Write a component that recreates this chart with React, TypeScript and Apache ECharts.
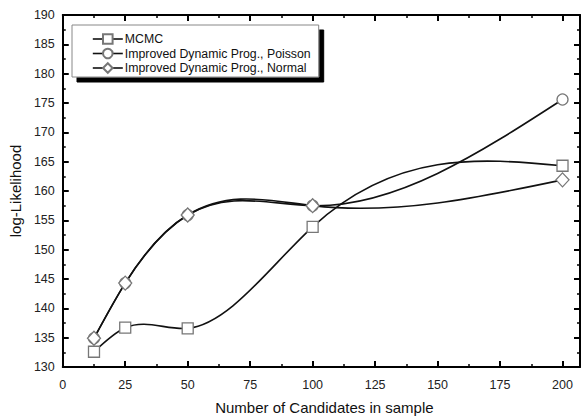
import React, { useEffect, useRef } from "react";
import * as echarts from "echarts";

const xValues = [12.5, 25, 50, 100, 200];
const mcmc = [132.6, 136.7, 136.6, 153.9, 164.3];
const poisson = [134.9, 144.3, 155.9, 157.5, 175.6];
const normal = [134.9, 144.3, 155.9, 157.5, 161.9];
const seriesNames = [
  "MCMC",
  "Improved Dynamic Prog., Poisson",
  "Improved Dynamic Prog., Normal",
];
const xAxisTitle = "Number of Candidates in sample";
const yAxisTitle = "log-Likelihood";

const FONT = "'Liberation Sans', Arial, sans-serif";

// natural cubic spline -> bezier segments in data space (drawing style only)
function splineSegments(xs: number[], ys: number[]) {
  const n = xs.length;
  const h: number[] = [];
  for (let i = 0; i < n - 1; i++) h.push(xs[i + 1] - xs[i]);
  const M = new Array(n).fill(0);
  if (n > 2) {
    const a: number[] = [], b: number[] = [], c: number[] = [], r: number[] = [];
    for (let i = 1; i < n - 1; i++) {
      a.push(h[i - 1]);
      b.push(2 * (h[i - 1] + h[i]));
      c.push(h[i]);
      r.push(6 * ((ys[i + 1] - ys[i]) / h[i] - (ys[i] - ys[i - 1]) / h[i - 1]));
    }
    const m = b.length;
    for (let i = 1; i < m; i++) {
      const w = a[i] / b[i - 1];
      b[i] -= w * c[i - 1];
      r[i] -= w * r[i - 1];
    }
    const sol = new Array(m).fill(0);
    sol[m - 1] = r[m - 1] / b[m - 1];
    for (let i = m - 2; i >= 0; i--) sol[i] = (r[i] - c[i] * sol[i + 1]) / b[i];
    for (let i = 0; i < m; i++) M[i + 1] = sol[i];
  }
  const segs: number[][][] = [];
  for (let i = 0; i < n - 1; i++) {
    const s = (ys[i + 1] - ys[i]) / h[i];
    const d0 = s - (h[i] * (2 * M[i] + M[i + 1])) / 6;
    const d1 = s + (h[i] * (M[i] + 2 * M[i + 1])) / 6;
    segs.push([
      [xs[i], ys[i]],
      [xs[i] + h[i] / 3, ys[i] + (d0 * h[i]) / 3],
      [xs[i + 1] - h[i] / 3, ys[i + 1] - (d1 * h[i]) / 3],
      [xs[i + 1], ys[i + 1]],
    ]);
  }
  return segs;
}

export default function App() {
  const ref = useRef<HTMLDivElement>(null);
  useEffect(() => {
    if (!ref.current) return;
    const chart = echarts.init(ref.current, undefined, { renderer: "svg" });
    const LINE_COLOR = "#111";
    const LINE_W = 1.6;
    const itemStyle = { color: "#fff", borderColor: "#777", borderWidth: 1.3 };
    const axisLine = { show: true, onZero: false, lineStyle: { color: "#000", width: 2 } };
    const axisTick = { show: true, inside: true, length: 6, lineStyle: { color: "#000", width: 2 } };
    const minorTick = { show: true, splitNumber: 2, length: 3, lineStyle: { color: "#000", width: 1.5 } };
    const xCommon = { type: "value", min: 0, max: 207, interval: 25 };
    const yCommon = { type: "value", min: 130, max: 190, interval: 5 };
    const mk = (arr: number[]) => xValues.map((x, i) => [x, arr[i]]);

    const curveSeries = (arr: number[]) => ({
      type: "custom",
      coordinateSystem: "cartesian2d",
      data: mk(arr),
      encode: { x: 0, y: 1 },
      silent: true,
      z: 1,
      renderItem: (params: any, api: any) => {
        if (params.dataIndex !== 0) return null;
        const segs = splineSegments(xValues, arr);
        let d = "";
        segs.forEach((sg, i) => {
          const p = sg.map((q) => api.coord(q));
          if (i === 0) d += `M${p[0][0]},${p[0][1]}`;
          d += `C${p[1][0]},${p[1][1]} ${p[2][0]},${p[2][1]} ${p[3][0]},${p[3][1]}`;
        });
        return {
          type: "path",
          shape: { pathData: d },
          style: { stroke: LINE_COLOR, lineWidth: LINE_W, fill: "none" },
        };
      },
    });

    const symbolSeries = (name: string, arr: number[], symbol: string, size: any, z: number) => ({
      name,
      type: "line",
      data: mk(arr),
      symbol,
      symbolSize: size,
      showAllSymbol: true,
      lineStyle: { color: LINE_COLOR, width: LINE_W, opacity: 0 },
      itemStyle,
      z,
    });

    chart.setOption({
      animation: false,
      textStyle: { fontFamily: FONT },
      grid: { left: 61, right: 4, top: 15, bottom: 51, containLabel: false },
      legend: {
        orient: "vertical",
        left: 72,
        top: 25,
        padding: [8, 8, 3, 20],
        itemWidth: 30,
        itemHeight: 12,
        itemGap: 2.5,
        backgroundColor: "#fff",
        borderColor: "#888",
        borderWidth: 1,
        shadowColor: "#000",
        shadowBlur: 0,
        shadowOffsetX: 5,
        shadowOffsetY: 5,
        lineStyle: { color: LINE_COLOR, width: LINE_W, opacity: 1 },
        textStyle: { fontFamily: FONT, fontSize: 12.3, color: "#111", padding: [0, 0, 0, -3] },
        data: seriesNames,
      },
      xAxis: [
        {
          ...xCommon,
          position: "bottom",
          name: xAxisTitle,
          nameLocation: "middle",
          nameGap: 33,
          nameTextStyle: { fontFamily: FONT, fontSize: 15, color: "#111", padding: [0, 0, 0, 6] },
          axisLine,
          axisTick,
          minorTick,
          splitLine: { show: false },
          axisLabel: {
            fontFamily: FONT,
            fontSize: 12.5,
            color: "#222",
            margin: 11,
            formatter: (v: number) => (v % 25 === 0 ? String(v) : ""),
          },
        },
        {
          ...xCommon,
          position: "top",
          axisLine,
          axisTick,
          minorTick,
          splitLine: { show: false },
          axisLabel: { show: false },
        },
      ],
      yAxis: [
        {
          ...yCommon,
          position: "left",
          name: yAxisTitle,
          nameLocation: "middle",
          nameGap: 38,
          nameRotate: 90,
          nameTextStyle: { fontFamily: FONT, fontSize: 15, color: "#111" },
          axisLine,
          axisTick,
          minorTick,
          splitLine: { show: false },
          axisLabel: { fontFamily: FONT, fontSize: 12.5, color: "#222", margin: 8 },
        },
        {
          ...yCommon,
          position: "right",
          axisLine,
          axisTick,
          minorTick,
          splitLine: { show: false },
          axisLabel: { show: false },
        },
      ],
      series: [
        curveSeries(mcmc),
        curveSeries(poisson),
        curveSeries(normal),
        symbolSeries(seriesNames[0], mcmc, "rect", 11, 3),
        symbolSeries(seriesNames[1], poisson, "circle", 11, 2),
        symbolSeries(seriesNames[2], normal, "diamond", [13, 14], 4),
      ],
    });
    return () => chart.dispose();
  }, []);
  return (
    <div
      ref={ref}
      style={{ position: "fixed", left: 0, top: 0, width: 584, height: 420, background: "#fff" }}
    />
  );
}
